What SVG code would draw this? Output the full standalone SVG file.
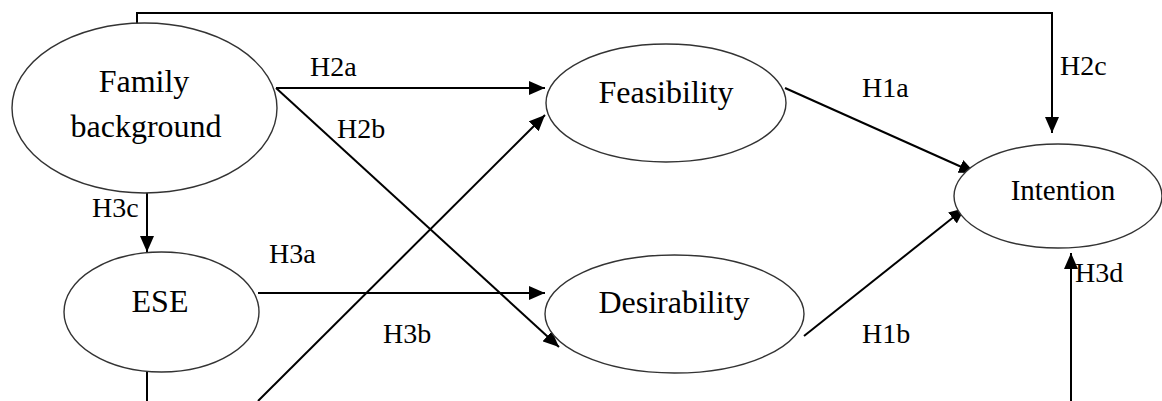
<svg xmlns="http://www.w3.org/2000/svg" width="1162" height="401" viewBox="0 0 1162 401">
  <style>
    .node { fill: #fff; stroke: #333; stroke-width: 1.4; }
    .name { font-family: 'Liberation Serif', 'Times New Roman', serif; font-size: 32px; fill: #000; text-anchor: middle; }
    .lbl { font-family: 'Liberation Serif', 'Times New Roman', serif; font-size: 28px; fill: #000; }
    .edge { fill: none; stroke: #000; stroke-width: 2; }
  </style>
  <defs>
    <marker id="arrow" markerUnits="userSpaceOnUse" markerWidth="16" markerHeight="14" refX="16" refY="7" orient="auto">
      <path d="M0,0 L16,7 L0,14 z" fill="#000"/>
    </marker>
  </defs>
  <rect width="1162" height="401" fill="#fff"/>

  <g id="connectors">
    <!-- H2c: Family background over the top to Intention -->
    <path class="edge" d="M137,45 V13 H1052 V133" marker-end="url(#arrow)"/>
    <!-- H2a / H2b -->
    <line class="edge" x1="276" y1="88" x2="545" y2="88" marker-end="url(#arrow)"/>
    <line class="edge" x1="276" y1="88" x2="559" y2="347" marker-end="url(#arrow)"/>
    <!-- H3c -->
    <line class="edge" x1="147" y1="193" x2="147" y2="252" marker-end="url(#arrow)"/>
    <!-- H3a / H3b -->
    <line class="edge" x1="258" y1="293" x2="545" y2="293" marker-end="url(#arrow)"/>
    <line class="edge" x1="258" y1="401" x2="545" y2="115" marker-end="url(#arrow)"/>
    <!-- line leaving ESE downward -->
    <line class="edge" x1="147" y1="372" x2="147" y2="401"/>
    <!-- H1a / H1b -->
    <line class="edge" x1="785" y1="88" x2="975" y2="173" marker-end="url(#arrow)"/>
    <line class="edge" x1="804" y1="336" x2="965" y2="208" marker-end="url(#arrow)"/>
    <!-- H3d -->
    <line class="edge" x1="1071" y1="401" x2="1071" y2="253" marker-end="url(#arrow)"/>
  </g>

  <g id="node-family">
    <ellipse class="node" cx="144.5" cy="108" rx="132.5" ry="85"/>
    <text class="name" x="144" y="92">Family</text>
    <text class="name" x="146" y="137">background</text>
  </g>
  <g id="node-ese">
    <ellipse class="node" cx="161.5" cy="312" rx="97.5" ry="60"/>
    <text class="name" x="160" y="312">ESE</text>
  </g>
  <g id="node-feasibility">
    <ellipse class="node" cx="666" cy="103" rx="120" ry="59"/>
    <text class="name" x="666" y="103">Feasibility</text>
  </g>
  <g id="node-desirability">
    <ellipse class="node" cx="674.5" cy="314" rx="129.5" ry="59"/>
    <text class="name" x="674" y="313">Desirability</text>
  </g>
  <g id="node-intention">
    <ellipse class="node" cx="1058" cy="196" rx="104" ry="52"/>
    <text class="name" x="1063" y="200" style="font-size:29px">Intention</text>
  </g>

  <g id="labels">
    <text class="lbl" x="310" y="76">H2a</text>
    <text class="lbl" x="337" y="138">H2b</text>
    <text class="lbl" x="1060" y="75">H2c</text>
    <text class="lbl" x="92" y="217">H3c</text>
    <text class="lbl" x="269" y="263">H3a</text>
    <text class="lbl" x="383" y="343">H3b</text>
    <text class="lbl" x="1075" y="282">H3d</text>
    <text class="lbl" x="862" y="97">H1a</text>
    <text class="lbl" x="862" y="343">H1b</text>
  </g>
</svg>
